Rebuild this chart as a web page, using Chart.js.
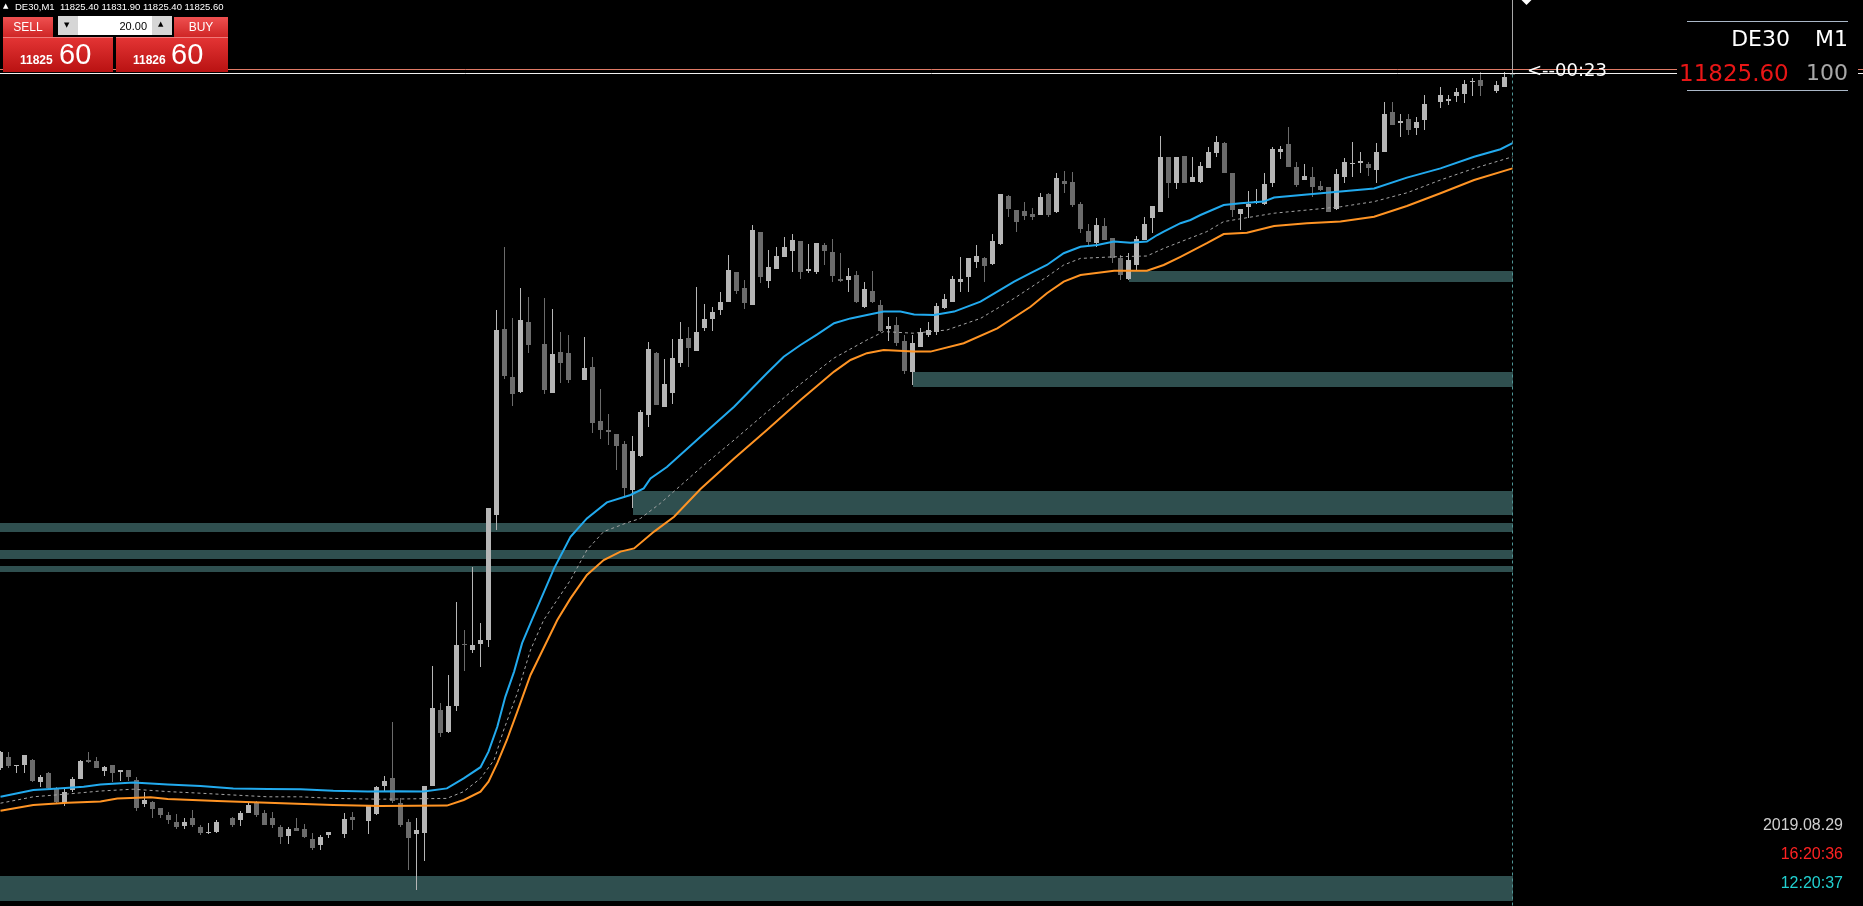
<!DOCTYPE html>
<html><head><meta charset="utf-8">
<script src="https://cdn.jsdelivr.net/npm/chart.js@4/dist/chart.umd.min.js"></script>
<style>
html,body{margin:0;padding:0;background:#000;width:1863px;height:906px;overflow:hidden;}
#wrap{position:relative;width:1863px;height:906px;}
#c{position:absolute;left:0;top:0;}
.t{position:absolute;white-space:pre;line-height:1;}
.lib{font-family:'Liberation Sans',Arial,sans-serif;}
.dv{font-family:'DejaVu Sans',Verdana,sans-serif;}
.btn{position:absolute;background:linear-gradient(#ef5050,#cf2626);color:#fff;font:12px 'Liberation Sans',Arial,sans-serif;text-align:center;line-height:20px;height:20px;}
.big{position:absolute;top:37px;height:35px;background:linear-gradient(#e33434,#b91212);border-top:1px solid #f07a7a;box-sizing:border-box;}
.sm{position:absolute;top:16px;font:bold 12px 'Liberation Sans',Arial,sans-serif;color:#fff;line-height:1;}
.lg{position:absolute;top:2px;font:29px 'Liberation Sans',Arial,sans-serif;color:#fff;line-height:1;}
.hl{position:absolute;left:1687px;width:161px;height:1px;background:#aab8c8;}
</style></head><body>
<div id="wrap">
<canvas id="c" width="1863" height="906"></canvas>

<div class="t dv" style="left:3px;top:3px;font-size:7px;color:#fff;">▲</div>
<div class="t lib" style="left:15px;top:2px;font-size:9.5px;color:#fff;">DE30,M1  11825.40 11831.90 11825.40 11825.60</div>

<div class="btn" style="left:3px;top:17px;width:50px;">SELL</div>
<div style="position:absolute;left:58px;top:16px;width:114px;height:19px;background:#fff;"></div>
<div style="position:absolute;left:58px;top:16px;width:20px;height:19px;background:#d6d6d6;"></div>
<div style="position:absolute;left:152px;top:16px;width:20px;height:19px;background:#d6d6d6;"></div>
<div class="t dv" style="left:64px;top:22px;font-size:7px;color:#000;">▼</div>
<div class="t dv" style="left:158px;top:21px;font-size:7px;color:#000;">▲</div>
<div class="t lib" style="left:80px;width:67px;text-align:right;top:21px;font-size:11px;color:#000;">20.00</div>
<div class="btn" style="left:174px;top:17px;width:54px;">BUY</div>

<div class="big" style="left:3px;width:110px;"><div class="sm" style="left:17px;">11825</div><div class="lg" style="left:56px;">60</div></div>
<div class="big" style="left:116px;width:112px;"><div class="sm" style="left:17px;">11826</div><div class="lg" style="left:55px;">60</div></div>

<div class="hl" style="top:21px;"></div>
<div style="position:absolute;left:1677px;top:58px;width:181px;height:30px;background:#000;"></div>
<div class="t dv" style="right:73px;top:28px;font-size:22px;color:#fff;">DE30</div>
<div class="t dv" style="right:15px;top:28px;font-size:22px;color:#fff;">M1</div>
<div class="t dv" style="left:1679px;top:61.5px;font-size:23px;color:#e81616;">11825.60</div>
<div class="t dv" style="right:15px;top:62.4px;font-size:22px;color:#a8a8a8;">100</div>
<div class="hl" style="top:90px;"></div>
<div class="t dv" style="left:1527px;top:60.5px;font-size:18px;color:#fff;">&lt;--00:23</div>

<div class="t lib" style="right:20px;top:816.5px;font-size:16px;color:#cfcfcf;">2019.08.29</div>
<div class="t lib" style="right:20px;top:845.5px;font-size:16px;color:#ff2222;">16:20:36</div>
<div class="t lib" style="right:20px;top:874.5px;font-size:16px;color:#22d0d0;">12:20:37</div>
</div>

<script>
// ---- candle data (M1 bars, index 0..189) ----
const open = [11652,11654.75,11652.5,11652.75,11654,11648.5,11650.75,11647,11643.25,11646.5,
11649.25,11654,11653.75,11651.25,11652.75,11651,11651.5,11649,11643,11643.5,
11642,11640.25,11638.5,11637.5,11639.5,11637.25,11635.75,11636,null,11639.5,
11639,11640.75,11643.25,11640.75,11639.5,11637.25,11635,11637,11636.75,11634.25,
11632.75,11635.25,null,11635.5,11639.75,null,11638.75,11640.5,11647.5,11649.5,
11643.25,11638.5,11635.5,11635.75,11647.5,11666.5,11661,11667.5,11683,11681.5,
11683,11684,11715.25,11761.75,11749.75,11746,11763.5,null,11758,11745.75,
11756,11755.75,null,11749,11752.25,11738.75,11736.5,11735.5,11733,11721.5,
11730,11740.25,11755.75,11742.25,11745.75,11753.25,11759.5,11756.25,11762,11764.25,
11766.5,11768.5,11776,11772,11767.75,11786,11773.75,11776.75,11779.75,11781.25,
11783.75,11776.25,11776,11782.75,11781,11774.25,11774,11775.25,11767.25,11771.25,
11767.75,11761.75,11762.75,11758.75,11751,11757.25,11760.25,11761,11767,11768.5,
11773.5,11774.75,11778.5,11779.5,11778,11783,11795,11791.5,11791.25,11790.5,
11790.25,11795.5,11791,11798.75,11798.5,11793,11786.25,11783.25,11787.5,11784.5,
11779.5,11774.25,11777.75,11784,11789.5,11791,11804.75,11798.25,11805,11798.5,
11798.5,11802,11805.75,11808.25,11800.75,11790.5,11792.25,11793.25,11793,11798.25,
11806,11808,11802.25,11799,11799.75,11797.5,11797.25,11791.75,11799.75,11803,
11803.25,11803,11801.5,11806,11816,11813.25,11814.25,11812,11814,null,
11818.5,11818.75,11820,11820.5,11823.5,11824,null,11821.25,11822.25,11825.4];
const high = [11656.25,11656,11652.75,11655.25,11654.25,11650.25,11651,11647.25,11646.75,11649.75,
11654,11656,11654.75,11652.5,11652.75,11651.5,11651.5,11649.75,11646,11643.75,
11642,11641,11640.5,11639.5,11641.5,11637.75,11638.25,11639,null,11639.75,
11641.25,11643.25,11643.75,11641.5,11641,11637.75,11637.25,11639.5,11638,11635.75,
11635.25,11636,null,11640.75,11641,null,11642.75,11647.5,11650,11663.5,
11644.5,11639.25,11639.5,11647.5,11677.5,11668.25,11675.25,11693.5,11686.5,11702.25,
11688.25,11717,11766.5,11782.25,11764.5,11772,11769.75,null,11769.5,11766.75,
11761,11760.25,null,11759.75,11754.75,11746.75,11740.5,11735.5,11733.75,11735,
11741.5,11758.5,11756,11754.25,11759.25,11763.5,11762.25,11772.25,11768,11767.25,
11771,11780.25,11776,11774,11787.75,11786,11781.5,11782.25,11784.75,11785.5,
11783.75,11783,11783.25,11783.25,11784.25,11780.75,11777,11776.25,11773.5,11776.25,
11769,11764.75,11764.75,11760.25,11760.25,11762,11763.5,11768.25,11770.5,11775,
11779.75,11779.5,11782.75,11779.75,11785.5,11795.5,11795.25,11791.5,11793.5,11792,
11795.75,11795.75,11800.75,11801.25,11801,11793.5,11788,11789.5,11789.5,11784.5,
11780.25,11780.75,11785,11789.75,11792.5,11810,11804.75,11804.75,11805,11804.75,
11803.5,11807.25,11810,11808.5,11800.75,11791.75,11796.25,11796.75,11800.75,11807.25,
11807.5,11812.25,11803.5,11803,11802.25,11798.75,11797.25,11801.75,11804.5,11808.5,
11806,11803.5,11808.25,11818.5,11818.5,11815.5,11815.5,11814.75,11820.25,null,
11822.25,11820.25,11822,11824,11824.5,11826,null,11823.75,11826,11831.9];
const low = [11651.5,11652,11650.75,11650.75,11648.5,11647.25,11646.75,11643.25,11642.5,11646,
11649.25,11653.25,11652,11650,11648.5,11648.75,11648.75,11641.25,11642.25,11639.5,
11639.5,11638,11636.75,11636.75,11637.25,11635.25,11635.5,11635.75,null,11637.25,
11637.5,11640.75,11639.75,11637.75,11637,11633,11633,11636.25,11634.5,11631.5,
11631.5,11634.5,null,11634.5,11636.5,null,11635.5,11640.25,11646,11643.25,
11637.25,11626.5,11621.5,11628.75,11647.5,11659.75,11660.75,11666.25,11676.25,11680.75,
11677.25,11682.25,11711.5,11749.25,11742.5,11745.75,11755.75,null,11745.5,11745.75,
11748.25,11748.25,null,11749,11735.75,11734.25,11732.75,11726.5,11719.5,11717,
11729.75,11737.25,11742.75,11742.25,11743,11752.25,11752.25,11756.25,11761.25,11761.25,
11765.25,11768.5,11770.5,11766.75,11767.75,11773.25,11772,11776.75,11779.75,11776,
11774.25,11775.75,11775.5,11777.75,11773.5,11773.5,11771,11768.25,11767,11768.25,
11761,11758.75,11757.5,11750.5,11747.75,11757.25,11759.75,11760.25,11766.75,11768.5,
11771,11771,11777,11773.5,11777.75,11782.75,11789.75,11786,11789,11789,
11790.25,11789.75,11790.75,11795.75,11792.25,11785.75,11782.75,11782.25,11784,11778.25,
11774,11774,11776.5,11784,11785.75,11791,11794.5,11796.75,11798.25,11798.5,
11798.25,11802,11804.75,11800.75,11789.75,11786.5,11789.5,11793,11792.75,11797.25,
11804.25,11802.25,11797.25,11799,11794.75,11796.25,11791,11791.5,11798.25,11799.75,
11800.75,11800,11798.25,11806,11812.75,11809.75,11810.25,11810.25,11811.5,null,
11817,11817.75,11818.5,11818.25,11820,11820,null,11820.75,11822.25,11825.4];
const close = [11656,11652.5,11652.75,11655.25,11648.75,11649.75,11647,11643.5,11646,11649.25,
11653.75,11653.5,11652,11652.25,11650.75,11651.5,11649.75,11642,11644,11641.75,
11640.25,11639,11637.25,11638.5,11637.75,11635.75,11636,11638.5,null,11637.75,
11640.75,11642.75,11640.25,11637.75,11637.75,11634.75,11636.75,11636.25,11634.75,11632,
11634.75,11636,null,11639.25,11639,null,11642.5,11647.25,11648.75,11643.75,
11637.75,11634.5,11636.5,11647.5,11667,11660.75,11667.5,11682.75,11682.75,11682.75,
11684,11717,11761.5,11750,11745.5,11764,11757.75,null,11746.5,11755.5,
11753.25,11749,null,11752,11738.25,11736.5,11736,11732.5,11722,11731.25,
11741,11756.75,11742.75,11748,11754.5,11759.25,11757,11761,11764.25,11766,
11768.5,11776.5,11771.25,11768.25,11786.5,11774.75,11777.25,11780,11782.25,11784,
11776,11776.75,11783.25,11781.25,11775,11773.75,11775,11768.5,11771.75,11768.5,
11761.25,11762.5,11758.25,11751.25,11758.25,11761,11761.5,11767.5,11769.25,11774.25,
11774.25,11779.5,11780,11777.5,11783.75,11795.5,11791.75,11788.5,11790,11789.75,
11794.75,11790.25,11799.5,11798,11792.75,11786.75,11783.5,11787.75,11784,11779.5,
11775.25,11779,11784.25,11788,11792.5,11804.75,11798.25,11804.75,11798.25,11799.75,
11802.5,11806,11808.5,11800.75,11791.5,11791.75,11793,11793.75,11798,11806.75,
11806.75,11802.25,11797.75,11800,11797.25,11796.5,11791,11800.5,11803.5,11803.25,
11803.75,11802,11806,11815.5,11812.75,11813.75,11811.5,11813.5,11818,null,
11820.25,11819.25,11821,11823,11823.75,11822.5,null,11822.75,11824.75,11825.6];

// ---- indicator lines, read at bar positions ----
const blueX = [0,4.1,6.25,10.4,12.5,16.6,20.9,25,29.1,33.4,37.5,41.6,45.9,49.6,52.9,55.8,57.9,60,61,62.1,63.1,64.2,65.2,66.4,69.2,71.25,73.3,75.8,78.75,80.4,81.25,83.3,87.5,91.7,93.75,95.8,97.9,100,102.1,104.2,106.25,108.3,110.4,112.5,114.2,116.7,119.2,122.5,124.6,126.7,128.75,130.8,132.9,135,137.1,139.2,141.25,143.3,144.6,145.4,147.5,148.75,150,152.9,155,157.9,159.2,163.3,167.5,171.7,175.8,180,184.2,187.5,189];
const blueY = [11644.8,11646.5,11646.75,11647.3,11647.9,11648.4,11647.9,11647.5,11646.9,11646.75,11646.7,11646.3,11646.1,11646.2,11646.1,11646.9,11649.4,11652.2,11656.1,11662.3,11669.8,11676.1,11683.2,11688.9,11701.9,11709.8,11714.4,11718.4,11720.25,11721.9,11724.4,11727.25,11734.8,11742.3,11746.5,11750.7,11754.8,11757.75,11760.4,11763.2,11764.4,11765.25,11766.1,11766.1,11765.4,11765.25,11766.1,11768.6,11771.1,11773.6,11775.7,11777.75,11780.7,11782.3,11782.75,11783.6,11783.3,11783.6,11785.25,11786.1,11788.2,11789,11790.25,11792.75,11793.2,11793.6,11794.6,11795.4,11796.1,11796.9,11799.6,11801.9,11804.8,11806.7,11808.2];
const midX = [0,4.1,8.4,12.5,16.6,20.9,25,29.1,33.4,37.5,41.6,47.5,55.8,57.9,60,61.7,62.9,64.6,66.25,67.9,71.25,73.3,75.4,78.3,80,82.5,85.8,87.5,91.7,95.8,100,104.2,108.3,110.4,114.1,118.3,122.5,126.7,130.8,132.9,135,139.2,143.3,145.4,150.8,152.9,159.2,167.5,171.7,175.8,180,184.2,189];
const midY = [11643.2,11644.8,11645.5,11646.25,11646.7,11646.1,11645.7,11645.25,11644.8,11644.8,11644.4,11644.2,11644.4,11646.1,11649.4,11654,11661.5,11670.7,11681.5,11689,11699,11706.5,11711.1,11713.3,11714.4,11718.2,11724,11727,11734,11741,11748,11754.5,11759,11761.1,11760.7,11761.5,11764.4,11769.4,11774.8,11777.75,11779.4,11779.8,11780,11781.9,11786.1,11788.6,11790.7,11792.3,11793.6,11795.8,11799,11801.9,11804.8];
const orX = [0,4.1,8.4,12.5,14.6,18.75,20.9,27.1,33.4,41.6,47.5,55.8,57.9,60,61,62.1,63.3,64.6,66.25,69.6,71.25,73.3,75.4,77.5,79.2,81.7,84.2,87.5,91.7,95.8,100,104.2,106.25,108.3,110.4,114.1,116.25,120.4,124.6,128.75,130.8,132.9,135,139.2,143.3,145.4,147.5,150.8,152.9,155.8,159.2,163.3,167.5,171.7,175.8,180,184.2,189];
const orY = [11641.3,11642.75,11643.3,11643.6,11644.4,11644.7,11644.25,11643.75,11643.3,11642.75,11642.5,11642.6,11644,11646.1,11648.6,11653.2,11659,11666.1,11675.25,11689,11694.4,11700.25,11704,11706.1,11706.9,11711.1,11714.8,11721.75,11729.4,11736.5,11744,11751.1,11754,11755.7,11756.5,11756.1,11756.1,11758.2,11761.9,11767.3,11770.7,11773.6,11775.25,11776.3,11776.3,11777.75,11779.8,11783.2,11785.5,11785.8,11787.5,11788.2,11788.6,11789.8,11792.5,11795.7,11799,11801.9];

// ---- support/resistance zones (null start = from left edge) ----
const bandLo = [11618.75,11711.1,11704.25,11701,11715.25,11747.25,11773.5];
const bandHi = [11625,11713.25,11706.5,11702.5,11721.25,11751,11776.25];
const bandStart = [null,null,null,null,79,114,141];

const bidPrice = 11825.6, askPrice = 11826.6;

// ---- build datasets ----
const N = open.length, lastBar = N - 1;
const bars = Array.from({length: N}, (_, i) => i);
const UP = '#b6b6b6', DN = '#6b6b6b';
const valid = bars.filter(i => open[i] !== null);
const wickData = valid.map(i => ({x: i, y: [low[i], high[i]], up: close[i] >= open[i]}));
const bodyData = valid.map(i => ({x: i, y: [Math.min(open[i], close[i]), Math.max(open[i], close[i])], up: close[i] >= open[i]}));
const col = ctx => (ctx.raw && ctx.raw.up) ? UP : DN;
const pts = (xs, ys) => xs.map((x, i) => ({x, y: ys[i]}));

const mt4 = {
  id: 'mt4',
  beforeDatasetsDraw(chart) {
    const {ctx, chartArea: a, scales: {x, y}} = chart;
    ctx.save();
    ctx.fillStyle = '#2f4f4f';
    const xe = Math.round(x.getPixelForValue(lastBar));
    for (let i = 0; i < bandLo.length; i++) {
      const x0 = bandStart[i] === null ? a.left : Math.round(x.getPixelForValue(bandStart[i]));
      const y0 = Math.round(y.getPixelForValue(bandHi[i]));
      const y1 = Math.round(y.getPixelForValue(bandLo[i]));
      ctx.fillRect(x0, y0, xe - x0, y1 - y0);
    }
    ctx.restore();
  },
  afterDatasetsDraw(chart) {
    const {ctx, chartArea: a, scales: {x, y}} = chart;
    ctx.save();
    ctx.lineWidth = 1;
    const ya = Math.floor(y.getPixelForValue(askPrice)) + 0.5;
    const yb = Math.floor(y.getPixelForValue(bidPrice)) + 0.5;
    ctx.strokeStyle = '#e07a66';
    ctx.beginPath(); ctx.moveTo(a.left, ya); ctx.lineTo(a.right, ya); ctx.stroke();
    ctx.strokeStyle = '#f0f0f0';
    ctx.beginPath(); ctx.moveTo(a.left, yb); ctx.lineTo(a.right, yb); ctx.stroke();
    const xl = Math.floor(x.getPixelForValue(lastBar)) + 0.5;
    ctx.strokeStyle = '#a8a8a8';
    ctx.beginPath(); ctx.moveTo(xl, a.top); ctx.lineTo(xl, yb); ctx.stroke();
    ctx.strokeStyle = '#4f9494';
    ctx.setLineDash([3, 3]);
    ctx.beginPath(); ctx.moveTo(xl, yb + 1); ctx.lineTo(xl, a.bottom); ctx.stroke();
    ctx.setLineDash([]);
    ctx.fillStyle = '#ffffff';
    ctx.beginPath(); ctx.moveTo(xl + 9, a.top); ctx.lineTo(xl + 19, a.top); ctx.lineTo(xl + 14, a.top + 5); ctx.closePath(); ctx.fill();
    ctx.restore();
  }
};

const xmin = -0.0625;
new Chart(document.getElementById('c'), {
  type: 'bar',
  data: {
    datasets: [
      {type: 'line', data: pts(blueX, blueY), borderColor: '#22aaee', borderWidth: 2, pointRadius: 0, tension: 0, order: 0},
      {type: 'line', data: pts(midX, midY), borderColor: '#a4a4a4', borderWidth: 1, borderDash: [3, 3], pointRadius: 0, tension: 0, order: 1},
      {type: 'line', data: pts(orX, orY), borderColor: '#ff9424', borderWidth: 2, pointRadius: 0, tension: 0, order: 0},
      {data: bodyData, backgroundColor: col, barThickness: 5, grouped: false, borderWidth: 0, inflateAmount: 0, minBarLength: 1, order: 2},
      {data: wickData, backgroundColor: col, barThickness: 1, grouped: false, borderWidth: 0, inflateAmount: 0, minBarLength: 1, order: 3}
    ]
  },
  options: {
    responsive: false, animation: false, devicePixelRatio: 1, events: [],
    layout: {padding: 0},
    plugins: {legend: {display: false}, tooltip: {enabled: false}},
    scales: {
      x: {type: 'linear', min: xmin, max: xmin + 1863 / 8, display: false, offset: false},
      y: {type: 'linear', min: 11617.5, max: 11844, display: false}
    }
  },
  plugins: [mt4]
});
</script>
</body></html>
